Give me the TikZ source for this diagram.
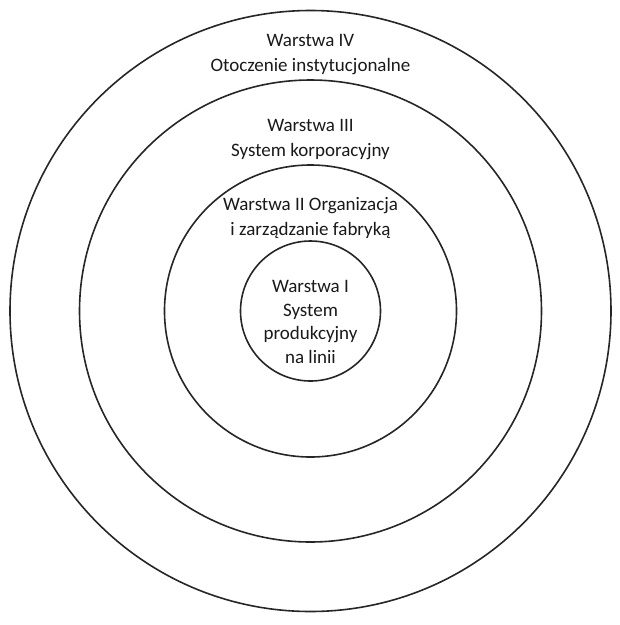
\documentclass[tikz,border=0pt]{standalone}
\usepackage{fontspec}
\setmainfont{Carlito}
\begin{document}
\begin{tikzpicture}[x=1pt,y=-1pt,
  ring/.style={draw=black!85,line width=1.6pt,circle,inner sep=0pt},
  label/.style={align=center,font=\fontsize{19}{25}\selectfont,text=black!90}]
\useasboundingbox (0,0) rectangle (620,625);
\coordinate (c) at (310.5,311);
% concentric layers, outermost first
\node[ring,minimum size=601pt] (l4) at (c) {};
\node[ring,minimum size=462pt] (l3) at (c) {};
\node[ring,minimum size=292pt] (l2) at (c) {};
\node[ring,minimum size=140pt] (l1) at (c) {};
% layer captions
\node[label] (t4) at (310.5,55) {Warstwa IV\\Otoczenie instytucjonalne};
\node[label] (t3) at (310.5,140) {Warstwa III\\System korporacyjny};
\node[label] (t2) at (310.5,218) {Warstwa II Organizacja\\i zarządzanie fabryką};
\node[label,font=\fontsize{19}{23.5}\selectfont] (t1) at (310.5,322) {Warstwa I\\System\\produkcyjny\\na linii};
\end{tikzpicture}
\end{document}
